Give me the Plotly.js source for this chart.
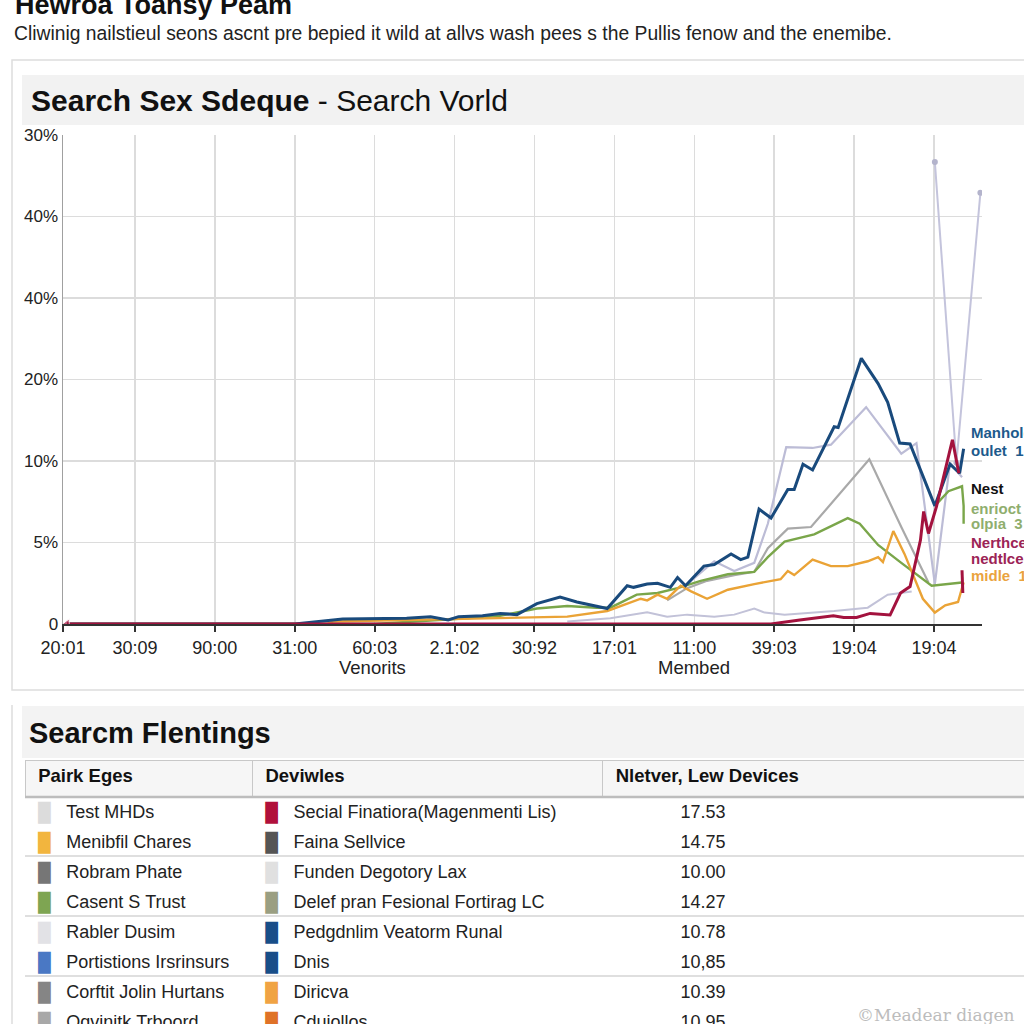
<!DOCTYPE html>
<html>
<head>
<meta charset="utf-8">
<script src="https://cdn.plot.ly/plotly-3.0.1.min.js"></script>
<style>
html,body{margin:0;padding:0;background:#fff;overflow:hidden;}
#chart{width:1024px;height:1024px;}
</style>
</head>
<body>
<div id="chart"></div>
<script>
// ---------- axis labels ----------
const xTickVals = [0.1, 1, 2, 3, 4, 5, 6, 7, 8, 9, 10, 11];
const xTickText = ["20:01", "30:09", "90:00", "31:00", "60:03", "2.1:02", "30:92", "17:01", "11:00", "39:03", "19:04", "19:04"];
const yTickVals = [0, 1, 2, 3, 4, 5, 6];
const yTickText = ["0", "5%", "10%", "20%", "40%", "40%", "30%"];

// ---------- series (y in grid steps of the axis) ----------
const navyX = [0.15, 3.0, 3.6, 4.4, 4.7, 4.92, 5.05, 5.35, 5.57, 5.78, 6.03, 6.32, 6.53, 6.78, 6.91, 7.16, 7.24, 7.41, 7.54, 7.70, 7.79, 7.89, 8.12, 8.25, 8.46, 8.58, 8.67, 8.81, 8.96, 9.17, 9.25, 9.36, 9.48, 9.75, 9.80, 10.09, 10.30, 10.42, 10.57, 10.70, 11.01, 11.20, 11.32, 11.37];
const navyY = [0, 0, 0.06, 0.07, 0.09, 0.05, 0.09, 0.10, 0.13, 0.115, 0.25, 0.33, 0.27, 0.22, 0.19, 0.47, 0.45, 0.49, 0.50, 0.45, 0.57, 0.47, 0.71, 0.73, 0.86, 0.79, 0.82, 1.41, 1.30, 1.65, 1.65, 1.96, 1.89, 2.42, 2.41, 3.26, 2.95, 2.72, 2.22, 2.21, 1.45, 1.96, 1.85, 2.15];

const lavHighX = [7.91, 8.25, 8.50, 8.75, 8.92, 9.15, 9.48, 9.71, 10.15, 10.59, 10.78, 11.01, 11.20, 11.35];
const lavHighY = [0.49, 0.77, 0.65, 0.75, 1.23, 2.17, 2.16, 2.20, 2.66, 2.09, 2.22, 0.49, 1.98, 1.80];

const lavLowX = [6.41, 6.95, 7.41, 7.66, 7.91, 8.25, 8.50, 8.75, 8.88, 9.13, 9.75, 10.17, 10.42, 10.72];
const lavLowY = [0.03, 0.07, 0.145, 0.09, 0.115, 0.09, 0.115, 0.19, 0.14, 0.115, 0.16, 0.20, 0.36, 0.40];

const spikeX = [11.01, 11.28, 11.58];
const spikeY = [5.67, 1.98, 5.29];

const grayX = [7.66, 7.91, 8.16, 8.50, 8.75, 8.92, 9.17, 9.46, 10.19, 10.59, 10.93];
const grayY = [0.29, 0.44, 0.53, 0.60, 0.64, 0.93, 1.17, 1.19, 2.02, 1.19, 0.51];

const greenX = [0.15, 4.0, 5.15, 5.57, 6.03, 6.41, 6.78, 6.95, 7.28, 7.54, 7.79, 8.08, 8.42, 8.75, 8.92, 9.13, 9.50, 9.92, 10.07, 10.30, 10.59, 10.97, 11.35, null, 11.01, 11.18, 11.35, 11.37, 11.37];
const greenY = [0, 0, 0.07, 0.10, 0.19, 0.22, 0.20, 0.20, 0.36, 0.38, 0.44, 0.53, 0.61, 0.64, 0.82, 1.01, 1.10, 1.30, 1.23, 0.97, 0.75, 0.47, 0.51, null, 1.45, 1.63, 1.69, 1.45, 1.23];

const orangeX = [0.15, 3.4, 3.48, 5.57, 6.41, 6.91, 7.16, 7.33, 7.41, 7.54, 7.66, 7.83, 7.96, 8.16, 8.42, 8.75, 9.08, 9.17, 9.25, 9.48, 9.71, 9.92, 10.17, 10.30, 10.36, 10.49, 10.63, 10.76, 10.86, 11.01, 11.14, 11.30, 11.37];
const orangeY = [0, 0, 0.03, 0.07, 0.09, 0.16, 0.25, 0.31, 0.29, 0.36, 0.31, 0.47, 0.40, 0.31, 0.42, 0.49, 0.55, 0.65, 0.60, 0.79, 0.71, 0.71, 0.77, 0.82, 0.76, 1.14, 0.86, 0.55, 0.31, 0.14, 0.23, 0.27, 0.51];

const crimsonX = [0.15, 8.96, 9.32, 9.74, 9.87, 10.03, 10.20, 10.33, 10.45, 10.58, 10.70, 10.83, 10.87, 10.93, 11.03, 11.23, 11.31, null, 11.35, 11.36];
const crimsonY = [0, 0, 0.05, 0.10, 0.08, 0.08, 0.13, 0.12, 0.11, 0.38, 0.46, 1.03, 1.38, 1.11, 1.44, 2.26, 1.85, null, 0.66, 0.38];

// ---------- end labels ----------
const endLabels = ["Manhole", "oulet  1", "Nest", "enrioct", "olpia  3", "Nerthce", "nedtlce", "midle  1"];
const endLabelColors = ["#1d5a8c", "#1d5a8c", "#111111", "#8fae6e", "#8fae6e", "#9c2456", "#9c2456", "#eaa33e"];

// ---------- table ----------
const tableHeaders = ["Pairk Eges", "Deviwles", "Nletver, Lew Devices"];
const col1Names = ["Test MHDs", "Menibfil Chares", "Robram Phate", "Casent S Trust", "Rabler Dusim", "Portistions Irsrinsurs", "Corftit Jolin Hurtans", "Oqvinitk Trboord"];
const col1Colors = ["#dcdcdc", "#f2b53e", "#767676", "#7ea552", "#e2e2e6", "#4a78c4", "#858585", "#a8a8a8"];
const col2Names = ["Secial Finatiora(Magenmenti Lis)", "Faina Sellvice", "Funden Degotory Lax", "Delef pran Fesional Fortirag LC", "Pedgdnlim Veatorm Runal", "Dnis", "Diricva", "Cduiollos"];
const col2Colors = ["#b0103c", "#555555", "#e0e0e0", "#9a9f82", "#184e88", "#184e88", "#f0a344", "#df7228"];
const col3Values = ["17.53", "14.75", "10.00", "14.27", "10.78", "10,85", "10.39", "10.95"];

// ---------- helpers ----------
const FONT = "Liberation Sans, Arial, sans-serif";
const NB = '\u00a0';
const PX = v => v / 1024;
const PY = v => 1 - v / 1024;
const nb = t => t.split(' ').join(NB);

const line = (x, y, color, w, extra) => Object.assign({
  type: 'scatter', mode: 'lines', x: x, y: y, line: {color: color, width: w},
  hoverinfo: 'skip', showlegend: false, connectgaps: false
}, extra || {});

const tableDomain = {x: [PX(25), 1], y: [0, PY(760)]};
const CLEAR = 'rgba(0,0,0,0)';
const blank = col1Names.map(() => '');

const traces = [
  line(lavLowX, lavLowY, '#c2c2d8', 2),
  line(grayX, grayY, '#a9a9a9', 2.2),
  line(lavHighX, lavHighY, '#bcbcd6', 2.2),
  line(spikeX, spikeY, '#c4c4dc', 2, {mode: 'lines+markers', marker: {size: 6, color: '#b4b4cc'}}),
  line(greenX, greenY, '#7aa64a', 2.4),
  line(orangeX, orangeY, '#eaa336', 2.4),
  line(navyX, navyY, '#194a7c', 3),
  line(crimsonX, crimsonY, '#a3123e', 3, {mode: 'lines+markers', marker: {size: [9].concat(crimsonX.slice(1).map(() => 0)), symbol: 'triangle-left', color: '#a3123e'}}),
  // header + colour swatches
  {
    type: 'table',
    domain: tableDomain,
    columnwidth: [233, 359, 432],
    header: {
      values: tableHeaders.map(h => NB + nb(h)),
      align: 'left', height: 36,
      fill: {color: '#f6f6f6'},
      line: {color: '#c8c8c8', width: 1},
      font: {family: FONT, size: 18.5, color: '#111', weight: 'bold'}
    },
    cells: {
      values: [
        col1Names.map(() => NB + '█'),
        col2Names.map(() => NB + '█'),
        blank
      ],
      align: 'left', height: 30,
      fill: {color: '#ffffff'},
      line: {color: '#ffffff', width: 1},
      font: {family: FONT, size: 18, color: [col1Colors, col2Colors, col2Colors]}
    }
  },
  // names and values, same rows
  {
    type: 'table',
    domain: tableDomain,
    columnwidth: [34, 199, 34, 325, 432],
    header: {
      values: ['', '', '', '', ''],
      align: 'left', height: 36,
      fill: {color: CLEAR},
      line: {color: CLEAR, width: 0},
      font: {family: FONT, size: 18, color: CLEAR}
    },
    cells: {
      values: [
        blank,
        col1Names.map(nb),
        blank,
        col2Names.map(nb),
        col3Values.map(v => NB.repeat(14) + v)
      ],
      align: 'left', height: 30,
      fill: {color: CLEAR},
      line: {color: CLEAR, width: 0},
      font: {family: FONT, size: 18, color: '#222'}
    }
  }
];

const shapes = [
  // top panel
  {type: 'rect', xref: 'paper', yref: 'paper', x0: PX(12), x1: PX(1030), y0: PY(690), y1: PY(60), line: {color: '#dddddd', width: 1.5}, fillcolor: '#ffffff', layer: 'below'},
  {type: 'rect', xref: 'paper', yref: 'paper', x0: PX(22), x1: 1, y0: PY(125), y1: PY(75), line: {width: 0}, fillcolor: '#f2f2f2', layer: 'below'},
  // bottom panel
  {type: 'line', xref: 'paper', yref: 'paper', x0: PX(12), x1: PX(12), y0: 0, y1: PY(705), line: {color: '#dddddd', width: 1.5}},
  {type: 'rect', xref: 'paper', yref: 'paper', x0: PX(22), x1: 1, y0: PY(758), y1: PY(706), line: {width: 0}, fillcolor: '#f3f3f3', layer: 'below'},
  // table row separators
  {type: 'line', xref: 'paper', yref: 'paper', x0: PX(25), x1: 1, y0: PY(797), y1: PY(797), line: {color: '#bdbdbd', width: 2.5}},
  {type: 'line', xref: 'paper', yref: 'paper', x0: PX(25), x1: 1, y0: PY(856), y1: PY(856), line: {color: '#d4d4d4', width: 1.5}},
  {type: 'line', xref: 'paper', yref: 'paper', x0: PX(25), x1: 1, y0: PY(916), y1: PY(916), line: {color: '#d4d4d4', width: 1.5}},
  {type: 'line', xref: 'paper', yref: 'paper', x0: PX(25), x1: 1, y0: PY(976), y1: PY(976), line: {color: '#d4d4d4', width: 1.5}}
];

const ann = (text, x, y, size, color, extra) => Object.assign({
  text: text, xref: 'paper', yref: 'paper', x: PX(x), y: PY(y),
  xanchor: 'left', yanchor: 'middle', showarrow: false,
  font: {family: FONT, size: size, color: color}
}, extra || {});

const endYs = [432, 450, 488, 508, 523, 542, 558, 575];
const annotations = [
  ann('<b>Hewroa Toansy Peam</b>', 13, 5, 27, '#111'),
  ann('Cliwinig nailstieul seons ascnt pre bepied it wild at allvs wash pees s the Pullis fenow and the enemibe.', 12, 33, 19.3, '#222'),
  ann('<b>Search Sex Sdeque</b> - Search Vorld', 29, 100, 30, '#111'),
  ann('<b>Searcm Flentings</b>', 27, 733, 29, '#111'),
  ann('Venorits', 372, 667, 18.5, '#222', {xanchor: 'center'}),
  ann('Membed', 694, 667, 18.5, '#222', {xanchor: 'center'}),
  ann('©Meadear diagen', 855, 1015, 17, '#b8b8b8', {font: {family: 'DejaVu Serif, serif', size: 17, color: '#bcbcbc'}})
].concat(endLabels.map((t, i) => ann(i === 2 ? '<b>' + t + '</b>' : t, 969, endYs[i], 15, endLabelColors[i],
  {font: {family: FONT, size: 15, color: endLabelColors[i], weight: i === 2 ? 'bold' : 600}})));

const layout = {
  width: 1024, height: 1024, autosize: false,
  margin: {l: 0, r: 0, t: 0, b: 0},
  paper_bgcolor: '#ffffff', plot_bgcolor: '#ffffff',
  showlegend: false,
  font: {family: FONT, size: 17, color: '#222'},
  xaxis: {
    domain: [PX(63), PX(982)], range: [0.1, 11.6],
    tickmode: 'array', tickvals: xTickVals, ticktext: xTickText,
    showgrid: true, gridcolor: '#dcdcdc', gridwidth: 1.5,
    showline: true, linecolor: '#333', linewidth: 2,
    ticks: 'outside', ticklen: 6, tickcolor: '#333', tickwidth: 2,
    tickfont: {family: FONT, size: 18, color: '#222'}, zeroline: false, fixedrange: true
  },
  yaxis: {
    domain: [PY(624), PY(135)], range: [0, 6],
    tickmode: 'array', tickvals: yTickVals, ticktext: yTickText,
    showgrid: true, gridcolor: '#dcdcdc', gridwidth: 1.5,
    showline: true, linecolor: '#a0a0a0', linewidth: 1.5,
    ticks: '', tickfont: {family: FONT, size: 17, color: '#222'}, zeroline: false, fixedrange: true
  },
  shapes: shapes,
  annotations: annotations
};

Plotly.newPlot('chart', traces, layout, {displayModeBar: false, staticPlot: true});
</script>
</body>
</html>
